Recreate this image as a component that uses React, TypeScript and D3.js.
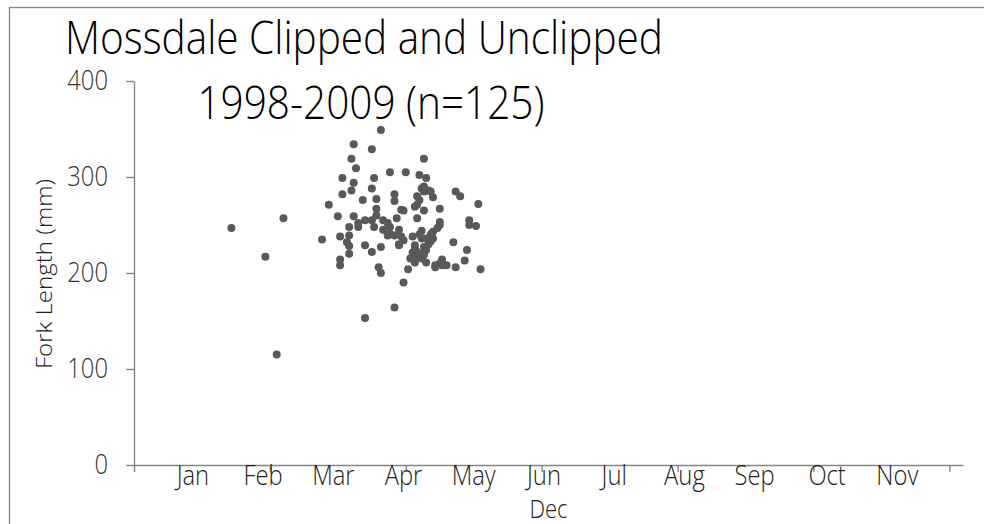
import { useEffect, useRef } from 'react';
import * as d3 from 'd3';

// Day of year of each catch and its fork length (mm)
const catchDays = [
    43, 58, 66, 63, 86, 83, 90,
    109, 97, 105, 96, 98, 113, 92, 106, 97, 96, 105, 92, 115, 101, 107, 115, 107, 97, 107,
    99, 102, 105, 99, 106, 110, 112, 113, 116, 95, 110, 112, 115, 91, 95, 94, 95, 102, 109,
    105, 95, 91, 91, 108, 109, 115, 102, 117,
    128, 120, 126, 129, 127, 128, 128, 130, 131, 132, 125, 126, 142, 144, 152, 124, 125, 128,
    135, 118, 119, 125, 148, 148, 151, 135, 135, 134, 132, 127, 118, 119, 123, 127, 131, 132,
    131, 129, 117, 124, 124, 124, 128, 129, 128, 126, 125, 141, 147, 123, 125, 127, 128, 146,
    136, 135, 136, 133, 133, 138, 142, 129, 124, 121, 153, 119,
    126, 130, 122, 117, 113
];
const forkLengths = [
    247, 217, 257, 115, 271, 235, 259,
    349, 334, 329, 319, 309, 305, 299, 299, 294, 286, 288, 282, 282, 276, 277, 275, 267, 259, 260,
    252, 255, 255, 248, 248, 255, 252, 248, 257, 248, 245, 239, 239, 238, 239, 232, 228, 229, 227,
    222, 220, 214, 208, 206, 200, 164, 153, 230,
    319, 305, 302, 299, 288, 290, 285, 286, 285, 279, 280, 276, 285, 280, 272, 269, 271, 265,
    267, 266, 265, 257, 255, 250, 249, 253, 250, 247, 243, 244, 238, 234, 238, 236, 240, 236,
    233, 236, 229, 229, 225, 222, 227, 224, 221, 219, 222, 232, 224, 221, 217, 215, 219, 213,
    214, 210, 208, 208, 206, 208, 206, 211, 211, 204, 204, 190,
    240, 230, 215, 245, 241
];

const monthLabels = ['Jan', 'Feb', 'Mar', 'Apr', 'May', 'Jun', 'Jul', 'Aug', 'Sep', 'Oct', 'Nov'];
const monthLabelDays = [26, 57, 88, 119, 150, 181, 212, 243, 274, 306, 337];
const xTickDays = [0, 60, 120, 180, 240, 300, 360];
const yTicks = [0, 100, 200, 300, 400];

const titleLines = ['Mossdale Clipped and Unclipped', '1998-2009 (n=125)'];
const yTitle = 'Fork Length (mm)';
const xTitle = 'Dec';

const W = 984;
const H = 524;
const FONT = '"Open Sans", "Segoe UI", sans-serif';

const App = () => {
    const svgRef = useRef<SVGSVGElement>(null);

    useEffect(() => {
        if (!svgRef.current) return;
        const svg = d3.select(svgRef.current);
        svg.selectAll('*').remove();

        const plot = { left: 134, right: 963, top: 81, bottom: 465 };

        const x = d3.scaleLinear().domain([0, 366]).range([plot.left, plot.right]);
        const y = d3.scaleLinear().domain([0, 400]).range([plot.bottom, plot.top]);

        // chart frame (runs off the right and bottom edge)
        svg.append('rect')
            .attr('x', 9.5)
            .attr('y', 7.5)
            .attr('width', W + 20)
            .attr('height', H + 20)
            .attr('fill', 'none')
            .attr('stroke', '#8a8a8a')
            .attr('stroke-width', 1.4);

        // title, two lines
        const title = svg.append('g')
            .attr('font-family', FONT)
            .attr('font-weight', 300)
            .attr('fill', '#000');
        const titlePos = [{ x: 364, y: 54, size: 46 }, { x: 371, y: 119, size: 46 }];
        title.selectAll('text')
            .data(titleLines)
            .enter().append('text')
            .attr('class', 'sq')
            .attr('x', (d, i) => titlePos[i].x)
            .attr('y', (d, i) => titlePos[i].y)
            .attr('font-size', (d, i) => titlePos[i].size)
            .attr('text-anchor', 'middle')
            .text(d => d);

        // Y axis
        const yAxis = svg.append('g')
            .attr('transform', `translate(${plot.left},0)`)
            .call(d3.axisLeft(y).tickValues(yTicks).tickSize(8).tickSizeOuter(0).tickPadding(18));
        yAxis.select('.domain').attr('stroke', '#868686').attr('stroke-width', 1.4);
        yAxis.selectAll('.tick line').attr('stroke', '#868686').attr('stroke-width', 1.4);
        yAxis.selectAll('.tick text')
            .attr('class', 'sq')
            .attr('font-family', FONT)
            .attr('font-weight', 300)
            .attr('font-size', 27)
            .attr('fill', '#333');

        // X axis
        const xAxis = svg.append('g')
            .attr('transform', `translate(0,${plot.bottom})`)
            .call(d3.axisBottom(x).tickValues(xTickDays).tickSize(7).tickSizeOuter(0).tickFormat(() => ''));
        xAxis.select('.domain').attr('stroke', '#868686').attr('stroke-width', 1.4);
        xAxis.selectAll('.tick line').attr('stroke', '#868686').attr('stroke-width', 1.4);

        svg.append('g')
            .attr('font-family', FONT)
            .attr('font-weight', 300)
            .attr('font-size', 27)
            .attr('fill', '#222')
            .selectAll('text')
            .data(monthLabels)
            .enter().append('text')
            .attr('class', 'sq')
            .attr('x', (d, i) => x(monthLabelDays[i]))
            .attr('y', plot.bottom + 20)
            .attr('text-anchor', 'middle')
            .text(d => d);

        // axis titles
        svg.append('text')
            .attr('class', 'sq')
            .attr('x', (plot.left + plot.right) / 2)
            .attr('y', 518)
            .attr('text-anchor', 'middle')
            .attr('font-family', FONT)
            .attr('font-weight', 300)
            .attr('font-size', 25)
            .attr('fill', '#222')
            .text(xTitle);

        svg.append('text')
            .attr('transform', `translate(52,${(plot.top + plot.bottom) / 2 + 1}) rotate(-90)`)
            .attr('text-anchor', 'middle')
            .attr('font-family', FONT)
            .attr('font-weight', 300)
            .attr('font-size', 22)
            .attr('textLength', 190)
            .attr('lengthAdjust', 'spacingAndGlyphs')
            .attr('fill', '#222')
            .text(yTitle);

        // dots
        svg.append('g')
            .selectAll('circle')
            .data(catchDays)
            .enter().append('circle')
            .attr('cx', d => x(d))
            .attr('cy', (d, i) => y(forkLengths[i]))
            .attr('r', 4)
            .attr('fill', '#595959');

        // squeeze horizontal text to the narrow look of the original
        const second = title.selectAll<SVGTextElement, string>('text').nodes()[1];
        const k = 347 / second.getComputedTextLength();
        svg.selectAll<SVGTextElement, unknown>('text.sq').each(function () {
            const w = this.getComputedTextLength();
            this.setAttribute('textLength', String(w * k));
            this.setAttribute('lengthAdjust', 'spacingAndGlyphs');
        });
    }, []);

    return (
        <svg
            ref={svgRef}
            width={W}
            height={H}
            style={{ position: 'absolute', left: 0, top: 0, background: '#fff' }}
        />
    );
};

export default App;
